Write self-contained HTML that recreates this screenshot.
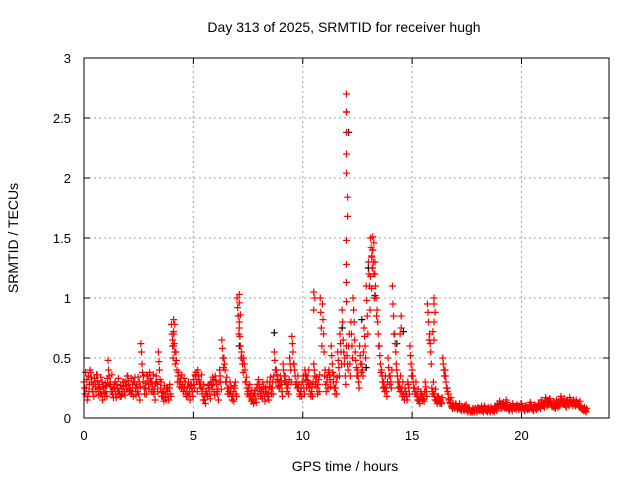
<!DOCTYPE html>
<html><head><meta charset="utf-8"><style>
html,body{margin:0;padding:0;background:#fff;}
svg{display:block;font-family:"Liberation Sans",sans-serif;}
</style></head><body>
<svg id="chart" width="640" height="480">
<text x="344" y="32" font-size="14" text-anchor="middle">Day 313 of 2025, SRMTID for receiver hugh</text>
<text x="345" y="471" font-size="14" text-anchor="middle">GPS time / hours</text>
<text x="18" y="238" font-size="14" text-anchor="middle" transform="rotate(-90 18 238)">SRMTID / TECUs</text>
<g id="grid"></g>
<g id="ticks"></g>
<g id="marks"></g>
<rect x="84" y="58" width="525" height="360" fill="none" stroke="#000" stroke-width="1"/>
</svg>
<script>
const xTicks=[0,5,10,15,20];
const yTicks=[0,0.5,1,1.5,2,2.5,3];
const yTickLabels=["0","0.5","1","1.5","2","2.5","3"];
const startHour=0, stepHour=0.1;
const mainVals=[0.30,0.25,0.35,0.38,0.22,0.30,0.36,0.28,0.20,0.25,
0.22,0.48,0.30,0.20,0.25,0.28,0.22,0.18,0.26,0.30,
0.35,0.25,0.22,0.30,0.28,0.20,0.62,0.30,0.25,0.35,
0.38,0.30,0.20,0.35,0.55,0.25,0.18,0.20,0.22,0.25,
0.78,0.70,0.55,0.35,0.30,0.28,0.25,0.22,0.20,0.28,
0.32,0.35,0.40,0.30,0.20,0.15,0.22,0.25,0.30,0.28,
0.35,0.20,0.40,0.65,0.50,0.30,0.25,0.22,0.18,0.25,
1.0,0.75,0.55,0.50,0.30,0.22,0.18,0.15,0.20,0.25,
0.28,0.20,0.22,0.25,0.18,0.30,0.25,0.55,0.40,0.30,
0.28,0.45,0.35,0.25,0.50,0.68,0.45,0.30,0.25,0.22,
0.30,0.40,0.35,0.25,0.22,0.45,0.30,0.28,1.0,0.95,
0.35,0.30,0.40,0.60,0.30,0.25,0.55,0.70,0.90,0.45,
0.60,0.60,0.80,1.0,0.55,0.40,0.60,0.45,0.75,1.1,
1.3,1.5,1.4,1.2,0.9,0.60,0.40,0.30,0.25,0.50,
0.35,1.1,0.70,0.40,0.30,0.25,0.20,0.22,0.30,0.60,
0.40,0.25,0.20,0.15,0.22,0.18,0.30,0.95,0.70,0.25,
0.20,0.15,0.18,0.15,0.50,0.40,0.25,0.15,0.10,0.10,
0.12,0.10,0.08,0.09,0.10,0.07,0.08,0.06,0.07,0.08,
0.09,0.08,0.07,0.10,0.06,0.08,0.09,0.07,0.10,0.12,
0.14,0.12,0.10,0.15,0.08,0.10,0.12,0.09,0.11,0.10,
0.12,0.08,0.10,0.09,0.13,0.08,0.11,0.10,0.12,0.15,
0.12,0.17,0.14,0.16,0.12,0.10,0.15,0.13,0.18,0.14,
0.12,0.15,0.17,0.13,0.14,0.15,0.12,0.10,0.08,0.07];
const lowVals=[0.20,0.15,0.28,0.30,0.18,0.22,0.25,0.20,0.15,0.18,
0.18,0.35,0.22,0.17,0.20,0.22,0.18,0.20,0.22,0.24,
0.28,0.20,0.18,0.25,0.22,0.15,0.45,0.25,0.20,0.28,
0.30,0.22,0.15,0.28,0.40,0.18,0.14,0.15,0.18,0.20,
0.60,0.55,0.40,0.30,0.25,0.22,0.20,0.18,0.15,0.22,
0.25,0.30,0.32,0.25,0.15,0.12,0.18,0.20,0.24,0.22,
0.28,0.15,0.30,0.50,0.40,0.25,0.20,0.18,0.14,0.20,
0.85,0.60,0.45,0.40,0.25,0.18,0.14,0.12,0.16,0.20,
0.22,0.16,0.18,0.20,0.15,0.25,0.20,0.40,0.32,0.25,
0.22,0.35,0.28,0.20,0.40,0.55,0.35,0.25,0.20,0.18,
0.25,0.32,0.28,0.20,0.18,0.35,0.25,0.22,0.75,0.70,
0.28,0.25,0.32,0.45,0.25,0.20,0.42,0.55,0.65,0.35,
0.45,0.45,0.60,0.80,0.42,0.30,0.45,0.35,0.60,0.85,
1.1,1.35,1.2,1.0,0.70,0.45,0.30,0.22,0.18,0.35,
0.25,0.85,0.55,0.30,0.22,0.18,0.15,0.18,0.25,0.45,
0.30,0.20,0.15,0.12,0.18,0.14,0.22,0.80,0.55,0.20,
0.15,0.12,0.14,0.12,0.40,0.30,0.20,0.12,0.08,0.08,
0.09,0.08,0.06,0.07,0.08,0.05,0.06,0.05,0.05,0.06,
0.07,0.06,0.05,0.08,0.05,0.06,0.07,0.05,0.08,0.09,
0.10,0.09,0.08,0.11,0.06,0.08,0.09,0.07,0.08,0.08,
0.09,0.06,0.08,0.07,0.10,0.06,0.08,0.08,0.09,0.11,
0.09,0.13,0.11,0.12,0.09,0.08,0.11,0.10,0.14,0.11,
0.09,0.12,0.13,0.10,0.11,0.12,0.09,0.08,0.06,0.05];
const midVals=[0.25,0.32,0.22,0.34,0.28,0.26,0.31,0.24,0.30,0.21,
0.27,0.40,0.26,0.24,0.30,0.25,0.20,0.24,0.30,0.27,
0.31,0.23,0.28,0.34,0.25,0.30,0.55,0.35,0.29,0.31,
0.33,0.26,0.24,0.30,0.47,0.30,0.22,0.17,0.25,0.28,
0.70,0.62,0.48,0.38,0.33,0.25,0.30,0.26,0.22,0.25,
0.28,0.38,0.35,0.28,0.24,0.18,0.20,0.28,0.27,0.32,
0.31,0.24,0.35,0.58,0.45,0.34,0.22,0.26,0.22,0.30,
0.92,0.68,0.50,0.45,0.34,0.25,0.20,0.18,0.23,0.28,
0.25,0.24,0.26,0.22,0.21,0.34,0.30,0.48,0.36,0.27,
0.31,0.40,0.30,0.28,0.45,0.62,0.40,0.28,0.28,0.25,
0.35,0.36,0.31,0.29,0.26,0.40,0.34,0.32,0.88,0.82,
0.40,0.34,0.36,0.52,0.35,0.30,0.48,0.62,0.80,0.50,
0.52,0.70,0.70,0.90,0.48,0.35,0.52,0.40,0.68,0.98,
1.2,1.42,1.3,1.1,0.80,0.52,0.35,0.26,0.22,0.42,
0.30,0.95,0.62,0.35,0.26,0.22,0.18,0.20,0.28,0.52,
0.35,0.22,0.18,0.14,0.20,0.16,0.26,0.88,0.62,0.22,
0.18,0.14,0.16,0.13,0.45,0.35,0.22,0.13,0.09,0.09,
0.10,0.09,0.07,0.08,0.09,0.06,0.07,0.06,0.06,0.07,
0.08,0.07,0.06,0.09,0.07,0.07,0.08,0.06,0.09,0.10,
0.12,0.10,0.09,0.13,0.07,0.09,0.10,0.08,0.10,0.09,
0.10,0.07,0.09,0.08,0.11,0.07,0.10,0.09,0.10,0.13,
0.11,0.15,0.12,0.14,0.10,0.09,0.13,0.12,0.16,0.12,
0.10,0.13,0.15,0.12,0.12,0.13,0.10,0.09,0.07,0.06];
const extraVals=[0.38,0.18,0.40,0.24,0.33,0.36,0.19,0.34,0.26,0.29,
0.33,0.28,0.36,0.28,0.17,0.33,0.27,0.30,0.19,0.35,
0.22,0.33,0.30,0.19,0.34,0.26,0.38,0.20,0.36,0.24,
0.22,0.36,0.29,0.22,0.32,0.21,0.27,0.24,0.15,0.18,
0.50,0.45,0.30,0.26,0.36,0.33,0.18,0.30,0.27,0.18,
0.36,0.22,0.28,0.36,0.28,0.22,0.27,0.16,0.34,0.19,
0.22,0.30,0.24,0.42,0.30,0.20,0.30,0.15,0.27,0.18,
0.70,0.50,0.38,0.30,0.20,0.28,0.23,0.20,0.13,0.32,
0.18,0.30,0.14,0.30,0.26,0.20,0.35,0.30,0.26,0.35,
0.18,0.30,0.22,0.32,0.30,0.45,0.28,0.35,0.18,0.30,
0.20,0.25,0.40,0.18,0.30,0.28,0.20,0.36,0.60,0.55,
0.22,0.38,0.26,0.38,0.20,0.34,0.35,0.45,0.55,0.28,
0.40,0.35,0.50,0.65,0.35,0.25,0.38,0.55,0.50,0.70,
0.90,1.25,1.0,0.85,0.60,0.38,0.25,0.35,0.30,0.28,
0.40,0.70,0.45,0.25,0.35,0.30,0.25,0.15,0.20,0.35,
0.25,0.30,0.24,0.18,0.15,0.22,0.18,0.65,0.45,0.30,
0.24,0.18,0.12,0.17,0.35,0.25,0.16,0.17,0.12,0.11,
0.07,0.12,0.09,0.06,0.11,0.08,0.05,0.08,0.08,0.05,
0.06,0.10,0.08,0.06,0.09,0.05,0.06,0.09,0.06,0.11,
0.08,0.13,0.11,0.09,0.10,0.06,0.08,0.10,0.07,0.12,
0.08,0.10,0.07,0.11,0.08,0.10,0.07,0.12,0.08,0.10,
0.14,0.10,0.16,0.10,0.14,0.12,0.09,0.15,0.12,0.16,
0.14,0.10,0.12,0.15,0.10,0.11,0.14,0.07,0.09,0.08];
const spikeTimes=[12.0,12.0,12.0,12.0,12.0,12.05,12.05,12.0,12.0,12.0,12.0,
13.2,13.25,13.2,13.15,13.3,13.2,13.1,13.15,
7.1,7.1,7.15,7.1,4.1,4.15,4.1,4.05,4.1,16.0,16.0,16.05,16.0,15.95,16.0,10.5,10.55,10.5,14.5,14.5,14.45];
const spikeVals=[2.70,2.55,2.38,2.20,2.04,1.84,1.68,1.48,1.28,1.13,0.97,
1.51,1.46,1.40,1.34,1.30,1.25,1.18,1.08,
1.03,0.96,0.86,0.80,0.82,0.78,0.72,0.65,0.60,1.00,0.95,0.88,0.80,0.72,0.65,1.05,1.00,0.90,0.85,0.75,0.70];
const blackTimes=[12.0,12.1,13.0,13.3,14.6,14.3,8.7,12.7,11.8,7.1,12.9];
const blackVals=[2.55,2.38,1.25,1.02,0.72,0.62,0.71,0.82,0.75,0.60,0.42];

const X0=84,X1=609,Y0=418,Y1=58,XMAX=24,YMAX=3;
const xs=t=>X0+(X1-X0)*t/XMAX;
const ys=v=>Y0-(Y0-Y1)*v/YMAX;
const NS="http://www.w3.org/2000/svg";
const grid=document.getElementById('grid'),ticks=document.getElementById('ticks'),marks=document.getElementById('marks');
function mk(tag,attrs,parent){const e=document.createElementNS(NS,tag);for(const k in attrs)e.setAttribute(k,attrs[k]);parent.appendChild(e);return e;}
xTicks.forEach(t=>{
  const x=xs(t);
  if(t>0){const g=mk('line',{x1:x,x2:x,y1:Y0,y2:Y1,stroke:'#a0a0a0','stroke-dasharray':'2,3'},grid);
  
  }
  const tk=mk('path',{d:`M${x},${Y0}v-6M${x},${Y1}v6`,stroke:'#000'},ticks);
  
  
  const l=mk('text',{x:x,y:Y0+22,'font-size':13,'text-anchor':'middle'},ticks);
  l.textContent=t;
  
  
});
yTicks.forEach((v,i)=>{
  const y=ys(v);
  if(v>0&&v<YMAX){const g=mk('line',{x1:X0,x2:X1,y1:y,y2:y,stroke:'#a0a0a0','stroke-dasharray':'2,3'},grid);
  
  }
  const tk=mk('path',{d:`M${X0},${y}h6M${X1},${y}h-6`,stroke:'#000'},ticks);
  
  
  const l=mk('text',{x:X0-13,y:y+5,'font-size':13,'text-anchor':'end'},ticks);
  l.textContent=yTickLabels[i];
  
  
});
function plus(t,v,color,name){
  const x=xs(t),y=ys(v);
  const p=mk('path',{d:`M${x-3.5},${y}h7M${x},${y-3.5}v7`,stroke:color,'stroke-width':1.2},marks);
  
  
}
blackTimes.forEach((t,i)=>plus(t,blackVals[i],'#000','black-point'));
mainVals.forEach((v,i)=>plus(startHour+i*stepHour,v,'#f00','red-point'));
lowVals.forEach((v,i)=>plus(startHour+i*stepHour+0.05,v,'#f00','red-point'));
midVals.forEach((v,i)=>plus(startHour+i*stepHour+0.025,v,'#f00','red-point'));
extraVals.forEach((v,i)=>plus(startHour+i*stepHour+0.075,v,'#f00','red-point'));
spikeTimes.forEach((t,i)=>plus(t,spikeVals[i],'#f00','red-spike-point'));
</script>
</body></html>
